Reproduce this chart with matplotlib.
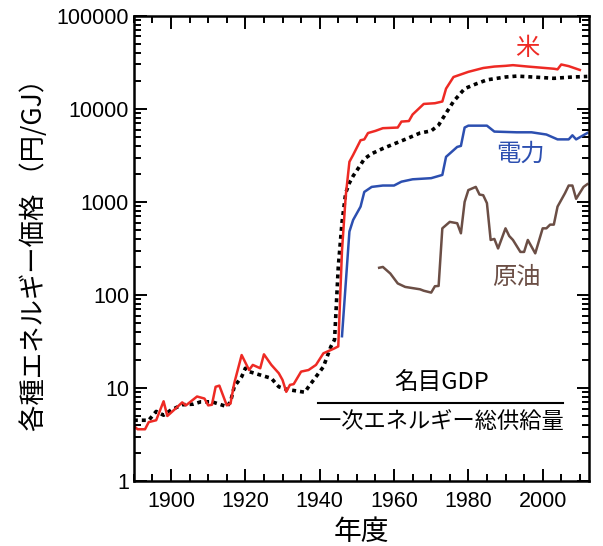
import matplotlib.pyplot as plt
from matplotlib.ticker import LogLocator, MultipleLocator, NullFormatter

plt.rcParams['font.family'] = ['Liberation Sans', 'Noto Sans CJK JP']
JP = ['Noto Sans CJK JP', 'DejaVu Sans']

# 米
rice_years = [1890, 1891, 1893, 1894, 1896, 1898, 1899, 1901, 1903, 1904, 1907, 1909,
              1910, 1911, 1912, 1913, 1915, 1916, 1917, 1919, 1921, 1922, 1924, 1925,
              1927, 1929, 1930, 1931, 1932, 1933, 1935, 1937, 1939, 1941, 1943, 1944,
              1945, 1946, 1947, 1948, 1949, 1951, 1952, 1953, 1955, 1957, 1961, 1962,
              1964, 1965, 1968, 1971, 1973, 1974, 1976, 1980, 1984, 1987, 1990, 1992,
              1996, 2003, 2004, 2005, 2007, 2010]
rice = [3.9, 3.6, 3.6, 4.3, 4.5, 7.2, 5.0, 5.9, 7.0, 6.5, 8.1, 7.7,
        6.5, 6.6, 10.3, 10.6, 6.5, 6.8, 11.2, 22.6, 15.6, 17.7, 16.3, 23,
        17.7, 14.4, 12.2, 9.1, 10.8, 11.0, 15.0, 15.6, 17.7, 23.6, 25.6, 26.7,
        28, 300, 1150, 2700, 3200, 4600, 4700, 5500, 5800, 6200, 6300, 7300,
        7400, 8700, 11300, 11500, 12000, 16500, 22000, 25000, 27500, 28500, 29000, 29500,
        28500, 27000, 26600, 30000, 28800, 26200]

# 名目GDP / 一次エネルギー総供給量
gdp_years = [1890, 1894, 1896, 1898, 1900, 1903, 1906, 1908, 1911, 1913, 1915, 1916,
             1917, 1919, 1920, 1921, 1924, 1927, 1929, 1931, 1933, 1936, 1937, 1939,
             1941, 1942, 1943, 1944, 1945, 1946, 1947, 1948, 1949, 1951, 1952, 1954,
             1957, 1960, 1963, 1967, 1970, 1972, 1974, 1976, 1979, 1982, 1985, 1990,
             1993, 1999, 2003, 2008, 2012]
gdp = [4.5, 4.5, 5.6, 5.1, 5.8, 6.6, 6.7, 7.1, 7.1, 6.7, 6.3, 7.1,
       10.3, 13.2, 16.3, 15.0, 13.8, 12.7, 10.3, 9.7, 9.4, 9.0, 10.3, 13.2,
       16.9, 21.7, 27.8, 33, 200, 600, 1250, 1600, 1900, 2500, 2900, 3300,
       3750, 4200, 4700, 5500, 5800, 6700, 9000, 12000, 16500, 18500, 20500, 22000,
       22500, 21800, 21300, 22000, 22300]

# 電力
elec_years = [1946, 1948, 1949, 1951, 1952, 1954, 1957, 1960, 1962, 1965, 1970, 1973,
              1974, 1977, 1978, 1979, 1980, 1985, 1987, 1993, 1997, 2001, 2004, 2007,
              2008, 2009, 2012]
elec = [36, 480, 640, 890, 1280, 1450, 1500, 1500, 1650, 1750, 1800, 1950,
        3050, 3900, 4000, 6300, 6600, 6600, 5700, 5600, 5600, 5300, 4700, 4700,
        5200, 4700, 5500]

# 原油
oil_years = [1956, 1957, 1959, 1961, 1963, 1967, 1968, 1970, 1971, 1972, 1973, 1975,
             1977, 1978, 1979, 1980, 1982, 1983, 1984, 1985, 1986, 1987, 1988, 1990,
             1991, 1992, 1994, 1995, 1996, 1998, 2000, 2001, 2002, 2003, 2004, 2006,
             2007, 2008, 2009, 2011, 2012]
oil = [196, 200, 170, 133, 122, 115, 111, 106, 124, 125, 520, 610,
       590, 460, 1000, 1340, 1450, 1200, 1180, 970, 390, 400, 316, 520,
       430, 390, 290, 290, 390, 280, 520, 520, 570, 570, 890, 1240,
       1500, 1500, 1080, 1450, 1550]

fig = plt.figure(figsize=(6.03, 5.46), dpi=100)
ax = fig.add_axes([0.222, 0.119, 0.755, 0.852])

ax.plot(gdp_years, gdp, color='black', lw=2.6, linestyle=(0, (1.1, 1.1)))
ax.plot(rice_years, rice, color='#ee2a24', lw=1.8)
ax.plot(elec_years, elec, color='#2c4fb0', lw=1.8)
ax.plot(oil_years, oil, color='#6b4e45', lw=1.8)

ax.set_yscale('log')
ax.set_xlim(1890, 2012.5)
ax.set_ylim(1, 100000)
ax.xaxis.set_major_locator(MultipleLocator(20))
ax.xaxis.set_minor_locator(MultipleLocator(5))
ax.yaxis.set_minor_locator(LogLocator(base=10, subs=range(2, 10), numticks=10))
ax.yaxis.set_minor_formatter(NullFormatter())
ax.set_yticks([1, 10, 100, 1000, 10000, 100000])
ax.set_yticklabels(['1', '10', '100', '1000', '10000', '100000'])

ax.tick_params(which='both', direction='in', top=True, right=True, width=1.4, labelsize=15.5)
ax.tick_params(which='major', length=9)
ax.tick_params(which='minor', length=5)
ax.tick_params(axis='x', which='major', pad=7)
for s in ax.spines.values():
    s.set_linewidth(1.8)

ax.set_xlabel('年度', fontsize=20, family=JP, labelpad=4)
ax.set_ylabel('各種エネルギー価格 （円/GJ）', fontsize=19, family=JP, labelpad=6)

ax.text(0.864, 0.931, '米', transform=ax.transAxes, color='#ee2a24', fontsize=17.5,
        family=JP, ha='center', va='center')
ax.text(0.848, 0.703, '電力', transform=ax.transAxes, color='#2c4fb0', fontsize=17.5,
        family=JP, ha='center', va='center')
ax.text(0.840, 0.439, '原油', transform=ax.transAxes, color='#6b4e45', fontsize=17.5,
        family=JP, ha='center', va='center')

ax.text(0.675, 0.211, '名目GDP', transform=ax.transAxes, fontsize=17,
        family=JP, ha='center', va='center')
ax.plot([0.405, 0.943], [0.168, 0.168], transform=ax.transAxes, color='black', lw=1.5)
ax.text(0.675, 0.125, '一次エネルギー総供給量', transform=ax.transAxes, fontsize=16,
        family=JP, ha='center', va='center')

fig.savefig('out.png', dpi=100)
